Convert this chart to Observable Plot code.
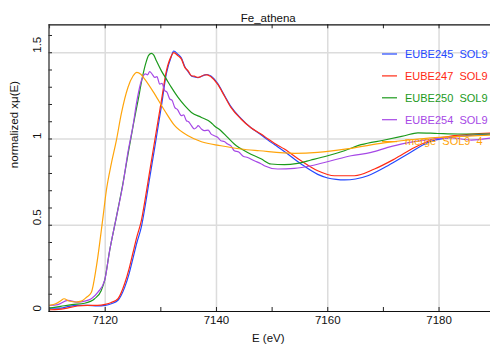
<!DOCTYPE html>
<html><head><meta charset="utf-8">
<script src="https://cdn.jsdelivr.net/npm/d3@7"></script>
<script src="https://cdn.jsdelivr.net/npm/@observablehq/plot@0.6"></script>
<style>
html,body{margin:0;padding:0;background:#fff;overflow:hidden;}
svg text{font-family:"Liberation Sans",Arial,sans-serif;}
</style>
</head><body><div id="chart"></div>
<script>
const title = "Fe_athena";
const xLabel = "E (eV)";
const yLabel = "normalized xμ(E)";
const xTicks = [7120, 7140, 7160, 7180];
const xMinorTicks = [7110, 7120, 7130, 7140, 7150, 7160, 7170, 7180, 7190];
const yTicks = [0, 0.5, 1, 1.5];
const yMinorTicks = [0, 0.1, 0.2, 0.3, 0.4, 0.5, 0.6, 0.7, 0.8, 0.9, 1.0, 1.1, 1.2, 1.3, 1.4, 1.5, 1.6];

const seriesNames = ["EUBE245  SOL9", "EUBE247  SOL9", "EUBE250  SOL9", "EUBE254  SOL9", "merge  SOL9  4"];
const seriesColors = ["#2448ff", "#ff2a14", "#1c9a1c", "#a648e6", "#ffa40a"];

const e245 = [7110.0,7112.0,7113.5,7115.0,7116.8,7118.6,7120.0,7121.1,7122.3,7123.5,7124.3,7125.0,7125.7,7126.5,7127.2,7127.9,7128.9,7130.1,7131.0,7131.9,7132.3,7133.1,7133.7,7134.3,7134.9,7135.5,7136.0,7136.7,7137.8,7138.3,7139.0,7140.2,7141.4,7142.6,7144.4,7146.2,7148.0,7149.2,7150.4,7152.2,7155.2,7158.2,7160.0,7161.5,7163.0,7165.0,7167.2,7170.8,7174.4,7178.0,7181.6,7185.0,7189.4];
const v245 = [0.020,0.020,0.030,0.035,0.036,0.033,0.036,0.045,0.065,0.140,0.220,0.310,0.400,0.490,0.615,0.755,0.950,1.190,1.380,1.480,1.510,1.490,1.470,1.420,1.390,1.365,1.360,1.356,1.370,1.374,1.365,1.322,1.255,1.188,1.120,1.065,1.025,0.995,0.968,0.928,0.855,0.795,0.774,0.766,0.763,0.768,0.787,0.845,0.913,0.980,1.009,1.020,1.029];

const e247 = [7110.0,7111.6,7113.2,7115.0,7116.8,7118.6,7120.0,7121.1,7122.3,7123.5,7124.3,7125.0,7125.7,7126.5,7127.2,7127.9,7128.9,7130.1,7131.0,7131.9,7132.3,7133.1,7133.7,7134.3,7134.9,7135.5,7136.0,7136.7,7137.8,7138.3,7139.0,7140.2,7141.4,7142.6,7144.4,7146.2,7148.0,7149.2,7150.4,7152.2,7155.2,7158.2,7161.2,7164.8,7168.4,7172.0,7175.6,7179.2,7182.7,7189.4];
const v247 = [0.010,0.012,0.020,0.032,0.035,0.035,0.041,0.052,0.074,0.162,0.249,0.342,0.434,0.527,0.654,0.793,0.990,1.222,1.395,1.482,1.501,1.482,1.463,1.415,1.395,1.367,1.364,1.357,1.371,1.372,1.361,1.318,1.251,1.183,1.116,1.065,1.029,1.002,0.976,0.942,0.874,0.816,0.787,0.787,0.826,0.884,0.951,1.000,1.019,1.035];

const e250 = [7110.0,7112.0,7114.0,7116.3,7118.1,7119.3,7119.9,7120.8,7122.0,7123.2,7124.2,7125.1,7126.0,7126.7,7127.3,7127.8,7128.3,7128.7,7129.2,7130.1,7131.0,7131.9,7133.1,7134.3,7135.5,7137.3,7139.0,7139.6,7140.8,7142.0,7143.2,7145.6,7148.0,7149.8,7152.2,7154.6,7157.0,7160.0,7163.0,7166.0,7170.2,7173.8,7176.2,7179.8,7183.4,7189.4];
const v250 = [0.020,0.030,0.040,0.048,0.074,0.122,0.180,0.353,0.546,0.745,0.930,1.090,1.240,1.360,1.440,1.485,1.496,1.488,1.453,1.395,1.347,1.299,1.241,1.193,1.154,1.125,1.096,1.077,1.048,1.009,0.971,0.922,0.885,0.855,0.851,0.859,0.878,0.903,0.932,0.967,0.994,1.019,1.036,1.032,1.029,1.029];

const e254 = [7110.0,7111.5,7113.3,7115.1,7116.3,7117.5,7118.7,7119.9,7120.8,7122.0,7123.2,7124.1,7125.0,7125.7,7126.5,7127.2,7127.6,7128.0,7128.4,7128.9,7129.3,7129.8,7130.2,7130.7,7131.1,7131.6,7132.0,7132.5,7133.0,7133.7,7134.1,7134.6,7135.0,7135.5,7136.0,7136.4,7136.7,7137.3,7137.8,7138.5,7139.0,7139.6,7140.2,7140.8,7141.4,7142.0,7142.6,7143.2,7144.0,7144.8,7145.6,7146.8,7148.0,7148.6,7151.0,7154.0,7157.0,7160.6,7164.2,7167.8,7170.8,7173.8,7177.4,7182.2,7185.8,7189.4];
const v254 = [0.035,0.040,0.064,0.054,0.060,0.074,0.112,0.180,0.353,0.546,0.739,0.925,1.077,1.222,1.338,1.378,1.372,1.391,1.378,1.357,1.362,1.318,1.322,1.280,1.272,1.232,1.225,1.183,1.170,1.135,1.140,1.106,1.100,1.077,1.058,1.066,1.077,1.058,1.048,1.052,1.030,1.019,1.010,0.990,0.985,0.971,0.960,0.932,0.925,0.900,0.893,0.874,0.857,0.845,0.826,0.830,0.845,0.874,0.903,0.922,0.951,0.975,0.994,1.006,0.994,1.006];

const eMerge = [7110.0,7111.2,7112.0,7112.6,7113.5,7114.8,7115.7,7116.6,7117.5,7118.4,7119.6,7120.2,7121.1,7122.0,7122.9,7124.1,7125.0,7125.7,7126.4,7127.1,7128.9,7130.7,7132.5,7134.9,7137.3,7140.8,7144.4,7147.7,7154.0,7158.2,7164.2,7170.1,7176.2,7182.2,7189.4];
const vMerge = [0.035,0.046,0.062,0.074,0.061,0.055,0.060,0.081,0.110,0.257,0.546,0.700,0.857,0.990,1.147,1.300,1.365,1.386,1.375,1.347,1.260,1.164,1.077,1.019,0.984,0.961,0.942,0.932,0.917,0.922,0.946,0.977,1.000,1.013,1.023];

const energies = [e245, e247, e250, e254, eMerge];
const values = [v245, v247, v250, v254, vMerge];

const rows = [];
seriesNames.forEach((name, i) => {
  energies[i].forEach((e, j) => rows.push({series: name, E: e, v: values[i][j]}));
});

const W = 490, H = 350, mL = 48.5, mT = 24.3, mB = 39, mR = 0;
const plotW = W - mL - mR, plotH = H - mT - mB;
const fontSize = 11.5;

const chart = Plot.plot({
  width: W, height: H,
  marginLeft: mL, marginRight: mR, marginTop: mT, marginBottom: mB,
  style: {fontSize: fontSize + "px", fontFamily: "'Liberation Sans', Arial, sans-serif", background: "#fff", overflow: "visible"},
  x: {domain: [7109.9, 7189.25], axis: null},
  y: {domain: [0, 1.662], axis: null},
  color: {domain: seriesNames, range: seriesColors},
  marks: [
    Plot.ruleX(xTicks, {stroke: "#dcdcdc", strokeWidth: 1.5}),
    Plot.ruleY(yTicks.filter(d => d > 0), {stroke: "#dcdcdc", strokeWidth: 1.5}),
    Plot.line(rows, {x: "E", y: "v", z: "series", stroke: "series", strokeWidth: 1.2, curve: "monotone-x", clip: true}),
    Plot.tickX(xMinorTicks, {x: d => d, insetTop: plotH - 4, stroke: "#222"}),
    Plot.tickX(xMinorTicks, {x: d => d, insetBottom: plotH - 4, stroke: "#222"}),
    Plot.tickY(yMinorTicks, {y: d => d, insetRight: plotW - 3.5, stroke: "#222"}),
    Plot.ruleY([0], {stroke: "#111", strokeWidth: 1.2}),
    Plot.ruleY([1.662], {stroke: "#111", strokeWidth: 1.2}),
    Plot.ruleX([7109.9], {stroke: "#444", strokeWidth: 1.4}),
    Plot.text(xTicks, {x: d => d, frameAnchor: "bottom", dy: 12, text: d => String(d), fill: "#111"}),
    Plot.text(yTicks, {y: d => d, frameAnchor: "left", dx: -11.5, rotate: -90, text: d => String(d), fill: "#111"}),
    Plot.text([title], {frameAnchor: "top", dx: -1.5, dy: -11, fill: "#111"}),
    Plot.text([xLabel], {frameAnchor: "bottom", dx: -1.5, dy: 30.5, fill: "#111"}),
    Plot.text([yLabel], {frameAnchor: "left", dx: -35, rotate: -90, fill: "#111"})
  ]
});
document.getElementById("chart").appendChild(chart);

// legend inside the plot, upper right
const svg = d3.select(chart.tagName.toLowerCase() === "svg" ? chart : chart.querySelector("svg"));
const leg = svg.append("g").attr("class", "legend").attr("text-anchor", "start");
const legX = 382, legY = 54, legStep = 21.9;
seriesNames.forEach((name, i) => {
  const y = legY + i * legStep;
  leg.append("line").attr("x1", legX).attr("x2", legX + 15).attr("y1", y).attr("y2", y)
    .attr("stroke", seriesColors[i]).attr("stroke-width", 1.2);
  leg.append("text").attr("x", legX + 23).attr("y", y).attr("dy", "0.35em")
    .attr("text-anchor", "start")
    .attr("fill", seriesColors[i]).attr("font-size", "11px")
    .style("white-space", "pre").text(name);
});
</script>
</body></html>
